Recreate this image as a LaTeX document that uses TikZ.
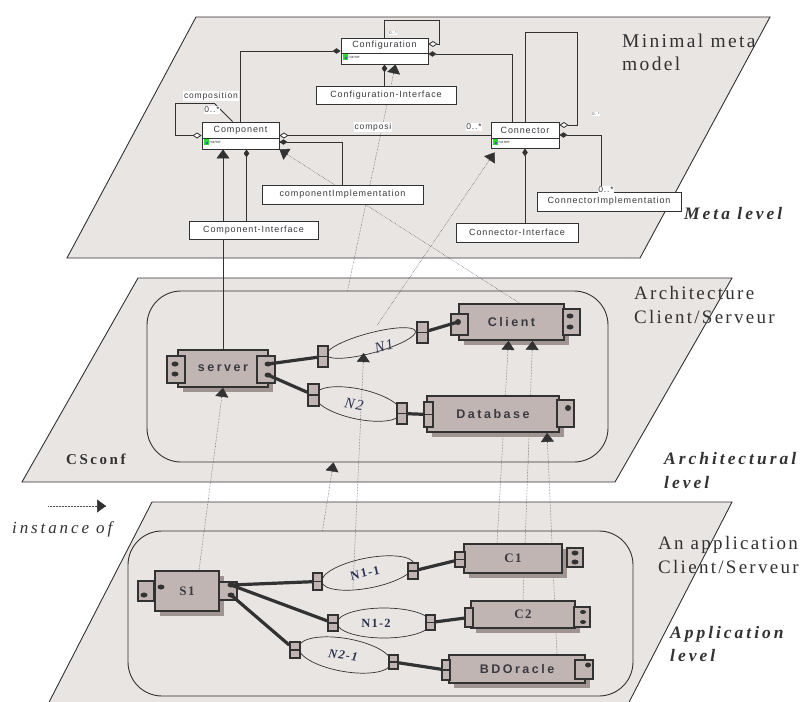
\documentclass[tikz,border=0pt]{standalone}
\usepackage{fontspec}
\setmainfont{Liberation Serif}
\newfontfamily\umlfont[LetterSpace=10]{Liberation Sans}
\newfontfamily\bxfont[LetterSpace=20]{Liberation Sans}
\newfontfamily\plfont[LetterSpace=12]{Liberation Serif}
\newfontfamily\lvfont[LetterSpace=17]{Liberation Serif}
\newfontfamily\nmfont[LetterSpace=10]{Liberation Serif}
\usetikzlibrary{arrows.meta,shapes.geometric,shadows,calc}
\definecolor{plane}{RGB}{233,229,227}
\definecolor{taupe}{RGB}{192,181,179}
\definecolor{shade}{RGB}{160,148,146}
\definecolor{ink}{RGB}{50,50,50}
\definecolor{txt}{RGB}{58,58,64}
\definecolor{dotc}{RGB}{80,80,80}
\definecolor{nlabc}{RGB}{42,52,82}
\definecolor{icong}{RGB}{40,220,40}
\definecolor{iconb}{RGB}{60,90,200}
\pgfdeclarelayer{back}
\pgfdeclarelayer{mid}
\pgfsetlayers{back,mid,main}
\tikzset{
 planeS/.style={fill=plane, draw=ink, line width=0.9pt},
 frameS/.style={draw=ink, line width=0.9pt, rounded corners=34pt, inner sep=0pt},
 bodyS/.style={draw=ink, fill=taupe, line width=1.7pt, inner sep=0pt, text=txt,
   drop shadow={shadow xshift=5pt, shadow yshift=-5pt, fill=shade, opacity=1}},
 bxtext/.style={font=\bxfont\bfseries\fontsize{12.5}{14}\selectfont},
 nmtext/.style={font=\nmfont\bfseries\fontsize{13}{14}\selectfont},
 portS/.style={draw=ink, fill=taupe, line width=1.5pt, inner sep=0pt},
 nportS/.style={portS, path picture={\draw[ink, line width=1.2pt] (path picture bounding box.west) -- (path picture bounding box.east);}},
 netS/.style={ellipse, draw=ink, line width=0.7pt, inner sep=0pt},
 nlab/.style={text=nlabc, inner sep=0pt},
 wireS/.style={draw=ink, line width=3.2pt},
 umlS/.style={draw=ink, fill=white, line width=0.9pt, inner sep=0pt},
 umlT/.style={font=\umlfont\fontsize{9}{10}\selectfont, text=txt, inner sep=0pt},
 lblS/.style={fill=white, inner sep=0.6pt, font=\umlfont\fontsize{8.5}{9}\selectfont, text=txt},
 tinyS/.style={fill=white, inner sep=0.3pt, font=\umlfont\fontsize{4}{4}\selectfont, text=txt},
 uline/.style={draw=ink, line width=0.8pt},
 fdia/.style={arrows={Diamond[length=8pt,width=5.5pt,color=ink]-}},
 odia/.style={arrows={Diamond[length=9pt,width=6pt,color=ink,fill=white]-}},
 instS/.style={draw=dotc, line width=0.5pt, densely dotted},
 solS/.style={draw=ink, line width=0.6pt},
 tipS/.style={draw=ink, line width=0.5pt, arrows={-Triangle[length=9pt,width=13pt,color=ink]}},
 plab/.style={text=ink, inner sep=0pt, align=left, anchor=north west},
}
\newcommand{\instline}[3][instS]{%
 \begin{pgfonlayer}{mid}\draw[#1] (#2) -- (#3);\end{pgfonlayer}%
 \draw[tipS] ($(#3)!10pt!(#2)$) -- (#3);}
\newcommand{\umlicon}[2]{%
 \fill[icong] (#1,#2) rectangle ++(5,6);
 \fill[iconb] (#1+3,#2+4) circle (1.3pt);}
\begin{document}
\begin{tikzpicture}[x=1pt,y=-1pt]
\useasboundingbox (0,0) rectangle (805,701);
% ---------------- planes
\begin{pgfonlayer}{back}
\draw[planeS] (67,258) -- (196,17) -- (770,17) -- (640,258) -- cycle;
\draw[planeS] (22,482) -- (138,278) -- (732,278) -- (615,482) -- cycle;
\fill[plane] (44,712) -- (152,502) -- (732,502) -- (624,712) -- cycle;
\draw[ink, line width=0.9pt] (44,712) -- (152,502) -- (732,502) -- (624,712);
\end{pgfonlayer}
% ---------------- plane labels
\node[plab, font=\plfont\fontsize{19.5}{23}\selectfont] (tMeta) at (622,34) {Minimal meta\\model};
\node[plab, font=\plfont\fontsize{19}{24}\selectfont] (tArch) at (634,286) {Architecture\\Client/Serveur};
\node[plab, font=\plfont\fontsize{19}{24}\selectfont] (tApp) at (658,536) {An application\\Client/Serveur};
\node[plab, font=\lvfont\bfseries\itshape\fontsize{17.5}{24}\selectfont] (lMeta) at (684,207) {Meta level};
\node[plab, font=\lvfont\bfseries\itshape\fontsize{17.5}{24}\selectfont] (lArch) at (664,452) {Architectural\\level};
\node[plab, font=\lvfont\bfseries\itshape\fontsize{17.5}{23}\selectfont] (lApp) at (670,626) {Application\\level};
\node[plab, anchor=west, font=\lvfont\bfseries\fontsize{15}{16}\selectfont] (lCS) at (66,459) {CSconf};
\node[plab, anchor=west, font=\lvfont\itshape\fontsize{17}{18}\selectfont] (lInst) at (12,529) {instance of};
% ---------------- meta model boxes
\node[umlS, minimum width=87, minimum height=26] (conf) at (384.5,51) {};
\draw[uline] (conf.west |- 0,53) -- (conf.east |- 0,53);
\node[umlT] (confT) at (384.5,45.5) {Configuration};
\umlicon{343}{54}
\node[umlS, minimum width=77, minimum height=27] (comp) at (240.5,135.5) {};
\draw[uline] (comp.west |- 0,138) -- (comp.east |- 0,138);
\node[umlT] (compT) at (240.5,130) {Component};
\umlicon{204}{139}
\node[umlS, minimum width=68, minimum height=26] (conn) at (525,135) {};
\draw[uline] (conn.west |- 0,138) -- (conn.east |- 0,138);
\node[umlT] (connT) at (525,130) {Connector};
\umlicon{493}{139}
\node[tinyS, fill=none, anchor=west] (confN) at (348,57.5) {name};
\node[tinyS, fill=none, anchor=west] (compN) at (209,142.5) {name};
\node[tinyS, fill=none, anchor=west] (connN) at (498,142.5) {name};
\node[umlS, umlT, minimum width=140, minimum height=18] (confI) at (386,95) {Configuration-Interface};
\node[umlS, umlT, minimum width=161, minimum height=19] (compImpl) at (342.5,194.5) {componentImplementation};
\node[umlS, umlT, minimum width=129, minimum height=18] (compI) at (253.5,230) {Component-Interface};
\node[umlS, umlT, minimum width=144, minimum height=19] (connImpl) at (609,201.5) {ConnectorImplementation};
\node[umlS, umlT, minimum width=122, minimum height=19] (connI) at (517,232.5) {Connector-Interface};
% ---------------- meta model associations
\draw[uline, fdia] (conf.west) -| (comp.north);
\draw[uline, fdia] ([yshift=-3]conf.east) -| ([xshift=-13]conn.north);
\draw[uline, odia] ([yshift=7]conf.east) -- ++(11,0) |- ([yshift=17]conf.north) -- (conf.north);
\draw[uline, fdia] (conf.south) -- (conf.south |- confI.north);
\draw[uline, odia] (comp.west) -- ++(-26,0) -- ++(0,-32) -- ++(39,0) -- ([xshift=-8]comp.north);
\draw[uline, odia] (comp.east) -- (comp.east -| conn.west);
\draw[uline, fdia] ([yshift=-6.5]comp.east) -| (compImpl.north);
\path ([xshift=6]comp.south) coordinate (ciTop);
\draw[uline, fdia] (ciTop) -- (ciTop |- compI.north);
\draw[uline, odia] ([yshift=10]conn.east) -- ++(18,0) |- ([yshift=89]conn.north) -- (conn.north);
\draw[uline, fdia] (conn.east) -| ([xshift=-8]connImpl.north);
\draw[uline, fdia] (conn.south) -- (conn.south |- connI.north);
\node[lblS] (mComp) at (211,96) {composition};
\node[lblS] (mM1) at (212,110) {0..*};
\node[lblS] (mComposi) at (373,127) {composi};
\node[lblS] (mM2) at (474,127) {0..*};
\node[lblS] (mM3) at (606,190) {0..*};
\node[tinyS] (mM4) at (393,33) {0..*};
\node[tinyS] (mM5) at (596,114) {0..*};
% ---------------- architecture level
\node[frameS, minimum width=461, minimum height=171] (cs) at (377.5,376.5) {};
\node[netS, minimum width=92, minimum height=20, rotate=15] (N1) at (371,343) {};
\node[netS, minimum width=88, minimum height=30, rotate=-12] (N2) at (358,404) {};
\node[nlab, rotate=15, font=\nmfont\itshape\fontsize{15}{16}\selectfont] (N1t) at (384,346) {N1};
\node[nlab, rotate=-10, font=\nmfont\itshape\fontsize{15}{16}\selectfont] (N2t) at (354,404) {N2};
\node[bodyS, bxtext, minimum width=90, minimum height=37] (server) at (223,368.5) {server};
\node[bodyS, bxtext, minimum width=105, minimum height=36] (client) at (511.5,322) {Client};
\node[bodyS, bxtext, minimum width=132, minimum height=36] (db) at (493,414) {Database};
\node[portS, minimum width=18, minimum height=27] (srvL) at (176,369.5) {};
\node[portS, minimum width=18, minimum height=27] (srvR) at (266,369.5) {};
\node[portS, minimum width=17, minimum height=21] (cliL) at (459.5,324.5) {};
\node[portS, minimum width=17, minimum height=26] (cliR) at (571.5,322) {};
\node[nportS, minimum width=9, minimum height=25] (dbL) at (428.5,414.5) {};
\node[portS, minimum width=17, minimum height=27] (dbR) at (565.5,413.5) {};
\node[nportS, minimum width=10, minimum height=21] (n1L) at (323,356.5) {};
\node[nportS, minimum width=11, minimum height=21] (n1R) at (422.5,332.5) {};
\node[nportS, minimum width=11, minimum height=22] (n2L) at (313.5,395) {};
\node[nportS, minimum width=10, minimum height=21] (n2R) at (402,413.5) {};
\coordinate (srvD1) at (268,364);
\coordinate (srvD2) at (268,375);
\coordinate (cliD) at (458,322);
\draw[wireS] (srvD1) -- (n1L);
\draw[wireS] (srvD2) -- (n2L);
\draw[wireS] (n1R) -- (cliD);
\draw[wireS] (n2R) -- (dbL);
\fill[ink] (175,364) ellipse [x radius=3.5pt, y radius=2.5pt];
\fill[ink] (175,374) ellipse [x radius=3.5pt, y radius=2.5pt];
\fill[ink] (srvD1) ellipse [x radius=3.5pt, y radius=2.5pt];
\fill[ink] (srvD2) ellipse [x radius=3.5pt, y radius=2.5pt];
\fill[ink] (cliD) ellipse [x radius=3pt, y radius=3pt];
\fill[ink] (570,316) ellipse [x radius=3.5pt, y radius=2.5pt];
\fill[ink] (570,327) ellipse [x radius=3.5pt, y radius=2.5pt];
\fill[ink] (568,408) ellipse [x radius=3pt, y radius=3pt];
% ---------------- application level
\node[frameS, minimum width=505, minimum height=165] (app) at (380.5,613.5) {};
\node[netS, minimum width=94, minimum height=30, rotate=11] (N11) at (368,573) {};
\node[netS, minimum width=94, minimum height=30] (N12) at (384,623) {};
\node[netS, minimum width=94, minimum height=33, rotate=-10] (N21) at (345,655) {};
\node[nlab, rotate=12, font=\nmfont\bfseries\fontsize{12.5}{14}\selectfont] (N11t) at (365,573) {N1-1};
\node[nlab, font=\nmfont\bfseries\fontsize{12.5}{14}\selectfont] (N12t) at (376,623) {N1-2};
\node[nlab, rotate=-8, font=\nmfont\bfseries\itshape\fontsize{12.5}{14}\selectfont] (N21t) at (343,655) {N2-1};
\node[bodyS, nmtext, minimum width=64, minimum height=40] (S1) at (187,591) {S1};
\node[bodyS, nmtext, minimum width=98, minimum height=29] (C1) at (513,558.5) {C1};
\node[bodyS, nmtext, minimum width=104, minimum height=27] (C2) at (523,614.5) {C2};
\node[bodyS, bxtext, minimum width=136, minimum height=28] (BD) at (517,669) {BDOracle};
\node[portS, minimum width=16, minimum height=20] (s1L) at (146,591) {};
\node[portS, minimum width=18, minimum height=18] (s1R) at (228,591) {};
\node[nportS, minimum width=10, minimum height=15] (c1L) at (460,559.5) {};
\node[portS, minimum width=16, minimum height=19] (c1R) at (575,557.5) {};
\node[portS, minimum width=8, minimum height=19] (c2L) at (469,617.5) {};
\node[portS, minimum width=16, minimum height=20] (c2R) at (582,617) {};
\node[nportS, minimum width=8, minimum height=20] (bdL) at (446,670) {};
\node[portS, minimum width=18, minimum height=19] (bdR) at (584,669.5) {};
\node[nportS, minimum width=9, minimum height=17] (n11L) at (317.5,581.5) {};
\node[nportS, minimum width=10, minimum height=16] (n11R) at (413,571) {};
\node[nportS, minimum width=10, minimum height=16] (n12L) at (333,623) {};
\node[nportS, minimum width=9, minimum height=15] (n12R) at (430.5,622.5) {};
\node[nportS, minimum width=10, minimum height=16] (n21L) at (295,650) {};
\node[nportS, minimum width=9, minimum height=14] (n21R) at (393.5,662) {};
\coordinate (s1D1) at (231,585);
\coordinate (s1D2) at (231,595);
\draw[wireS] (s1D1) -- (n11L);
\draw[wireS] (s1D1) -- (n12L);
\draw[wireS] (s1D2) -- (n21L);
\draw[wireS] (n11R) -- (c1L);
\draw[wireS] (n12R) -- (c2L);
\draw[wireS] (n21R) -- (bdL);
\fill[ink] (161,587) ellipse [x radius=3.5pt, y radius=2.5pt];
\fill[ink] (144,595) ellipse [x radius=3.5pt, y radius=2.5pt];
\fill[ink] (s1D1) ellipse [x radius=3.5pt, y radius=2.5pt];
\fill[ink] (s1D2) ellipse [x radius=3.5pt, y radius=2.5pt];
\fill[ink] (575,553) ellipse [x radius=3.5pt, y radius=2.5pt];
\fill[ink] (575,562) ellipse [x radius=3.5pt, y radius=2.5pt];
\fill[ink] (583,612) ellipse [x radius=3pt, y radius=2pt];
\fill[ink] (583,622) ellipse [x radius=3pt, y radius=2pt];
\fill[ink] (588,665) ellipse [x radius=3pt, y radius=2.5pt];
% ---------------- instance-of links
\coordinate (i1a) at (server.north);
\coordinate (i1b) at (server.north |- comp.south);
\coordinate (i2a) at ([xshift=-30]cs.north);
\coordinate (i2b) at ([xshift=11]conf.south);
\coordinate (i3a) at ([xshift=8]client.north);
\coordinate (i3b) at (comp.south east);
\coordinate (i4a) at ([xshift=9,yshift=8]N1.north);
\coordinate (i4b) at ([xshift=4,yshift=-4]conn.south west);
\coordinate (i5a) at ([xshift=12]S1.north);
\coordinate (i5b) at (server.south);
\coordinate (i6a) at ([xshift=-58]app.north);
\coordinate (i6b) at ([xshift=-44]cs.south);
\coordinate (i7a) at ([xshift=-18]N11.south);
\coordinate (i7b) at ([xshift=-10]N1.south);
\coordinate (i8a) at ([xshift=-16]C1.north);
\coordinate (i8b) at ([xshift=-3]client.south);
\coordinate (i9a) at (C2.north);
\coordinate (i9b) at ([xshift=21]client.south);
\coordinate (i10a) at ([xshift=40]BD.north);
\coordinate (i10b) at ([xshift=54]db.south);
\coordinate (legA) at (48,506);
\coordinate (legB) at (106,506);
\instline[solS]{i1a}{i1b}
\instline{i2a}{i2b}
\instline{i3a}{i3b}
\instline{i4a}{i4b}
\instline{i5a}{i5b}
\instline{i6a}{i6b}
\instline{i7a}{i7b}
\instline{i8a}{i8b}
\instline{i9a}{i9b}
\instline{i10a}{i10b}
\instline{legA}{legB}
\end{tikzpicture}
\end{document}
